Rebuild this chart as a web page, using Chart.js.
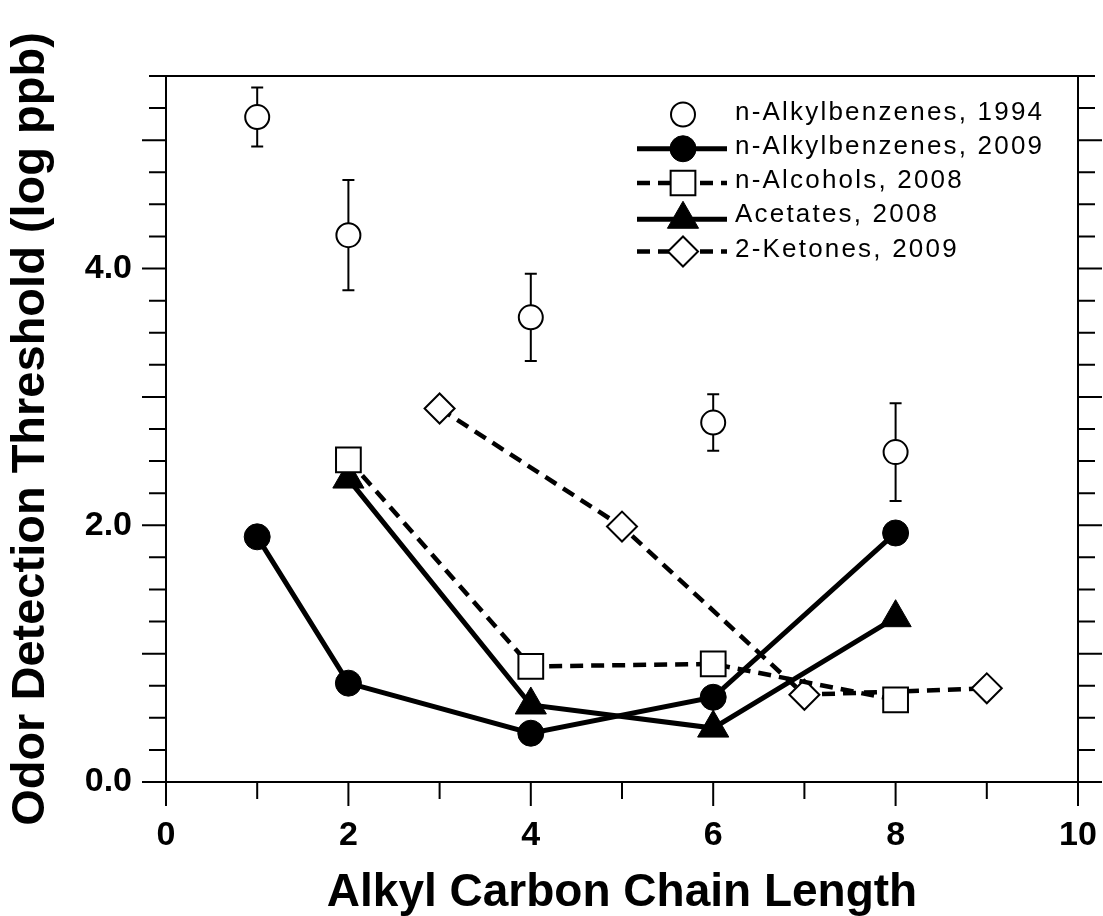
<!DOCTYPE html>
<html>
<head>
<meta charset="utf-8">
<script src="https://cdn.jsdelivr.net/npm/chart.js@4.4.1/dist/chart.umd.min.js"></script>
<style>
html,body{margin:0;padding:0;background:#ffffff;}
canvas{display:block;}
</style>
</head>
<body>
<canvas id="c" width="1103" height="916"></canvas>
<script>
// ---- data ----
const seriesLabels = [
  'n-Alkylbenzenes, 1994',
  'n-Alkylbenzenes, 2009',
  'n-Alcohols, 2008',
  'Acetates, 2008',
  '2-Ketones, 2009'
];
const chainAlkyl1994 = [1, 2, 4, 6, 8];
const alkylbenzenes1994 = [5.18, 4.26, 3.62, 2.80, 2.57];
const alkylbenzenes1994Err = [0.23, 0.43, 0.34, 0.22, 0.38];
const chainAlkyl2009 = [1, 2, 4, 6, 8];
const alkylbenzenes2009 = [1.91, 0.77, 0.38, 0.66, 1.94];
const chainAlcohols = [2, 4, 6, 8];
const alcohols2008 = [2.51, 0.90, 0.92, 0.64];
const chainAcetates = [2, 4, 6, 8];
const acetates2008 = [2.36, 0.60, 0.42, 1.28];
const chainKetones = [3, 5, 7, 9];
const ketones2009 = [2.91, 1.99, 0.68, 0.73];
const xTickLabels = ['0', '2', '4', '6', '8', '10'];
const yTickLabels = ['0.0', '2.0', '4.0'];
const xTitle = 'Alkyl Carbon Chain Length';
const yTitle = 'Odor Detection Threshold (log ppb)';

const FONT = '"Liberation Sans", Arial, Helvetica, sans-serif';
const pts = (xs, ys) => xs.map((x, i) => ({x: x, y: ys[i]}));

// ---- custom marker drawing for the legend ----
function drawMarker(ctx, style, x, y, r) {
  ctx.beginPath();
  if (style === 'circle') {
    ctx.arc(x, y, r, 0, Math.PI * 2);
  } else if (style === 'rect') {
    const s = r * Math.SQRT1_2;
    ctx.rect(x - s, y - s, 2 * s, 2 * s);
  } else if (style === 'triangle') {
    ctx.moveTo(x, y - r);
    ctx.lineTo(x + r * Math.sin(2 * Math.PI / 3), y - r * Math.cos(2 * Math.PI / 3));
    ctx.lineTo(x + r * Math.sin(4 * Math.PI / 3), y - r * Math.cos(4 * Math.PI / 3));
    ctx.closePath();
  } else if (style === 'rectRot') {
    ctx.moveTo(x - r, y);
    ctx.lineTo(x, y - r);
    ctx.lineTo(x + r, y);
    ctx.lineTo(x, y + r);
    ctx.closePath();
  }
}

// ---- plugin: frame + tick marks on both sides ----
const axisFramePlugin = {
  id: 'axisFrame',
  beforeDatasetsDraw(chart) {
    const {ctx, chartArea: a, scales: {x, y}} = chart;
    ctx.save();
    ctx.strokeStyle = '#000';
    ctx.lineWidth = 2;
    ctx.lineCap = 'butt';
    ctx.beginPath();
    y.ticks.forEach(t => {
      const py = y.getPixelForValue(t.value);
      const len = Math.abs(t.value - Math.round(t.value)) < 1e-9 ? 24 : 17;
      ctx.moveTo(a.left - len, py); ctx.lineTo(a.left, py);
      ctx.moveTo(a.right, py); ctx.lineTo(a.right + len, py);
    });
    x.ticks.forEach(t => {
      const px = x.getPixelForValue(t.value);
      const len = (Math.round(t.value) % 2 === 0) ? 24 : 17;
      ctx.moveTo(px, a.bottom); ctx.lineTo(px, a.bottom + len);
    });
    ctx.stroke();
    ctx.lineJoin = 'miter';
    ctx.strokeRect(a.left, a.top, a.right - a.left, a.bottom - a.top);
    ctx.restore();
  }
};

// ---- plugin: error bars for the 1994 series ----
const errorBarPlugin = {
  id: 'errorBars',
  beforeDatasetsDraw(chart) {
    const {ctx, scales: {x, y}} = chart;
    ctx.save();
    ctx.strokeStyle = '#000';
    ctx.lineWidth = 2;
    ctx.beginPath();
    chainAlkyl1994.forEach((cx, i) => {
      const px = x.getPixelForValue(cx);
      const top = y.getPixelForValue(alkylbenzenes1994[i] + alkylbenzenes1994Err[i]);
      const bot = y.getPixelForValue(alkylbenzenes1994[i] - alkylbenzenes1994Err[i]);
      ctx.moveTo(px, top); ctx.lineTo(px, bot);
      ctx.moveTo(px - 6, top); ctx.lineTo(px + 6, top);
      ctx.moveTo(px - 6, bot); ctx.lineTo(px + 6, bot);
    });
    ctx.stroke();
    ctx.restore();
  }
};

// ---- plugin: legend inside the plot ----
const insideLegendPlugin = {
  id: 'insideLegend',
  afterDatasetsDraw(chart) {
    const ctx = chart.ctx;
    const lineX0 = 637, lineX1 = 727, markX = 683, textX = 735;
    const rowY0 = 112.5, rowStep = 34.25;
    ctx.save();
    chart.data.datasets.forEach((ds, i) => {
      const yy = rowY0 + i * rowStep;
      const my = yy + (ds.pointStyle === 'triangle' ? 4 : 2);
      if (ds.showLine !== false) {
        ctx.beginPath();
        ctx.setLineDash(ds.borderDash || []);
        ctx.lineWidth = ds.borderWidth;
        ctx.strokeStyle = '#000';
        ctx.moveTo(lineX0, my); ctx.lineTo(lineX1, my);
        ctx.stroke();
        ctx.setLineDash([]);
      }
      drawMarker(ctx, ds.pointStyle, markX, my, ds.pointRadius);
      ctx.fillStyle = ds.pointBackgroundColor;
      ctx.fill();
      ctx.lineWidth = ds.pointBorderWidth;
      ctx.strokeStyle = '#000';
      ctx.stroke();
      ctx.fillStyle = '#000';
      ctx.font = '26px ' + FONT;
      try { ctx.letterSpacing = '2.2px'; } catch (e) {}
      ctx.textAlign = 'left';
      ctx.textBaseline = 'middle';
      ctx.fillText(seriesLabels[i], textX, yy);
    });
    ctx.restore();
  }
};

const solidW = 5, dashW = 4.5, dash = [13, 8];

new Chart(document.getElementById('c'), {
  type: 'line',
  data: {
    datasets: [
      {
        label: seriesLabels[0],
        data: pts(chainAlkyl1994, alkylbenzenes1994),
        showLine: false,
        pointStyle: 'circle', pointRadius: 12,
        pointBackgroundColor: '#ffffff', pointBorderColor: '#000', pointBorderWidth: 2,
        borderColor: '#000', borderWidth: 0
      },
      {
        label: seriesLabels[1],
        data: pts(chainAlkyl2009, alkylbenzenes2009),
        borderColor: '#000', borderWidth: solidW,
        pointStyle: 'circle', pointRadius: 13,
        pointBackgroundColor: '#000', pointBorderColor: '#000', pointBorderWidth: 1
      },
      {
        label: seriesLabels[2],
        data: pts(chainAlcohols, alcohols2008),
        borderColor: '#000', borderWidth: dashW, borderDash: dash,
        pointStyle: 'rect', pointRadius: 17.5,
        pointBackgroundColor: '#ffffff', pointBorderColor: '#000', pointBorderWidth: 2
      },
      {
        label: seriesLabels[3],
        data: pts(chainAcetates, acetates2008),
        borderColor: '#000', borderWidth: solidW,
        pointStyle: 'triangle', pointRadius: 18,
        pointBackgroundColor: '#000', pointBorderColor: '#000', pointBorderWidth: 1
      },
      {
        label: seriesLabels[4],
        data: pts(chainKetones, ketones2009),
        borderColor: '#000', borderWidth: dashW, borderDash: dash,
        pointStyle: 'rectRot', pointRadius: 15,
        pointBackgroundColor: '#ffffff', pointBorderColor: '#000', pointBorderWidth: 2
      }
    ]
  },
  options: {
    responsive: false,
    devicePixelRatio: 1,
    animation: false,
    events: [],
    layout: {autoPadding: false, padding: {left: 0, right: 25, top: 76, bottom: 0}},
    elements: {line: {tension: 0, fill: false}, point: {hoverRadius: 0}},
    plugins: {legend: {display: false}, tooltip: {enabled: false}, title: {display: false}},
    scales: {
      x: {
        type: 'linear', position: 'bottom', min: 0, max: 10,
        afterFit: s => { s.height = 134; s.paddingLeft = 0; s.paddingRight = 0; },
        border: {display: false},
        grid: {display: false, drawTicks: true, tickLength: 24},
        ticks: {
          stepSize: 1, autoSkip: false, maxRotation: 0, padding: 9, color: '#000',
          font: {family: FONT, size: 34, weight: 'bold'},
          callback: v => xTickLabels.find(l => parseFloat(l) === v) || ''
        },
        title: {
          display: true, text: xTitle, color: '#000',
          font: {family: FONT, size: 46, weight: 'bold', lineHeight: 1},
          padding: {top: 0, bottom: 0}
        }
      },
      y: {
        type: 'linear', position: 'left', min: 0, max: 5.5,
        afterFit: s => { s.width = 166; s.paddingTop = 0; s.paddingBottom = 0; },
        border: {display: false},
        grid: {display: false, drawTicks: true, tickLength: 24},
        ticks: {
          stepSize: 0.25, autoSkip: false, padding: 10, color: '#000',
          font: {family: FONT, size: 34, weight: 'bold'},
          callback: v => yTickLabels.find(l => Math.abs(parseFloat(l) - v) < 1e-9) || ''
        },
        title: {
          display: true, text: yTitle, color: '#000',
          font: {family: FONT, size: 47, weight: 'bold', lineHeight: 1},
          padding: {top: 8, bottom: 0}
        }
      }
    }
  },
  plugins: [axisFramePlugin, errorBarPlugin, insideLegendPlugin]
});
</script>
</body>
</html>
